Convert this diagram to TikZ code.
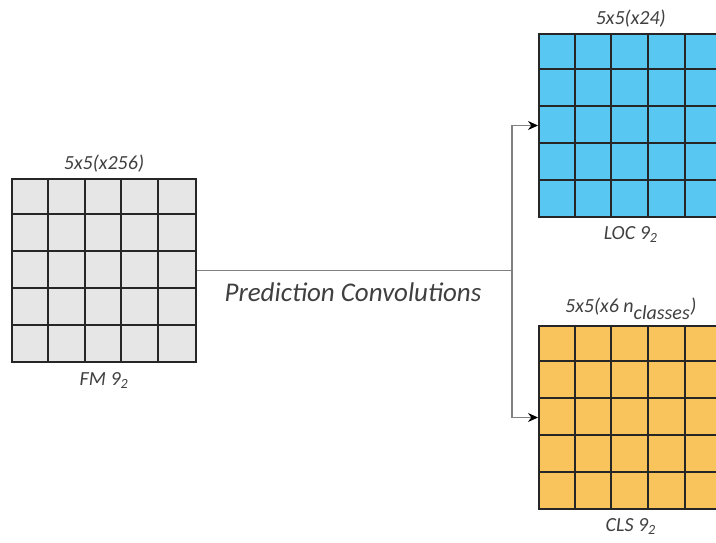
\documentclass[tikz,border=0pt]{standalone}
\usepackage{fontspec}
\setmainfont{Carlito}
\usetikzlibrary{positioning,arrows.meta}
\definecolor{fmgray}{RGB}{230,230,230}
\definecolor{locblue}{RGB}{88,200,242}
\definecolor{clsorange}{RGB}{249,196,92}
\definecolor{wiregray}{RGB}{128,128,128}
\begin{document}
\begin{tikzpicture}[x=1pt, y=-1pt, >={Stealth[length=10pt,width=9pt,color=black]},
    every node/.style={font=\fontsize{20}{24}\selectfont\itshape, text=black!75},
    gridbox/.style={draw=black!85, line width=2pt, minimum size=183.5pt, inner sep=0pt},
    cellline/.style={draw=black!85, line width=2pt},
    wire/.style={draw=wiregray, line width=1.3pt}]
  \useasboundingbox (0,0) rectangle (716,542);
  \clip (0,0) rectangle (716,542);

  % 入力の特徴マップ FM 9_2
  \node[gridbox, fill=fmgray] (fm) at (104,270.5) {};
  \foreach \i in {1,...,4} {
    \draw[cellline] ([xshift=\i*36.7pt]fm.north west) -- ([xshift=\i*36.7pt]fm.south west);
    \draw[cellline] ([yshift=-\i*36.7pt]fm.north west) -- ([yshift=-\i*36.7pt]fm.north east);
  }
  \node[above=2pt of fm] (fmtop) {5x5(x256)};
  \node[below=6pt of fm] (fmname) {FM 9\textsubscript{2}};

  % 位置の予測 LOC 9_2
  \node[gridbox, fill=locblue] (loc) at (630.75,125.5) {};
  \foreach \i in {1,...,4} {
    \draw[cellline] ([xshift=\i*36.7pt]loc.north west) -- ([xshift=\i*36.7pt]loc.south west);
    \draw[cellline] ([yshift=-\i*36.7pt]loc.north west) -- ([yshift=-\i*36.7pt]loc.north east);
  }
  \node[above=2pt of loc] (loctop) {5x5(x24)};
  \node[below=5pt of loc] (locname) {LOC 9\textsubscript{2}};

  % クラスの予測 CLS 9_2
  \node[gridbox, fill=clsorange] (cls) at (630.75,417.5) {};
  \foreach \i in {1,...,4} {
    \draw[cellline] ([xshift=\i*36.7pt]cls.north west) -- ([xshift=\i*36.7pt]cls.south west);
    \draw[cellline] ([yshift=-\i*36.7pt]cls.north west) -- ([yshift=-\i*36.7pt]cls.north east);
  }
  \node[above=2pt of cls] (clstop) {5x5(x6 $\mathit{n}_{\textit{classes}}$)};
  \node[below=5pt of cls] (clsname) {CLS 9\textsubscript{2}};

  % 分岐する接続線
  \coordinate (split) at (512,270.5);
  \draw[wire] (fm.east) -- (split);
  \draw[wire, ->] (split) |- (loc.west);
  \draw[wire, ->] (split) |- (cls.west);
  \node[font=\fontsize{27}{32}\selectfont\itshape] (predlabel) at (353,292) {Prediction Convolutions};
\end{tikzpicture}
\end{document}
